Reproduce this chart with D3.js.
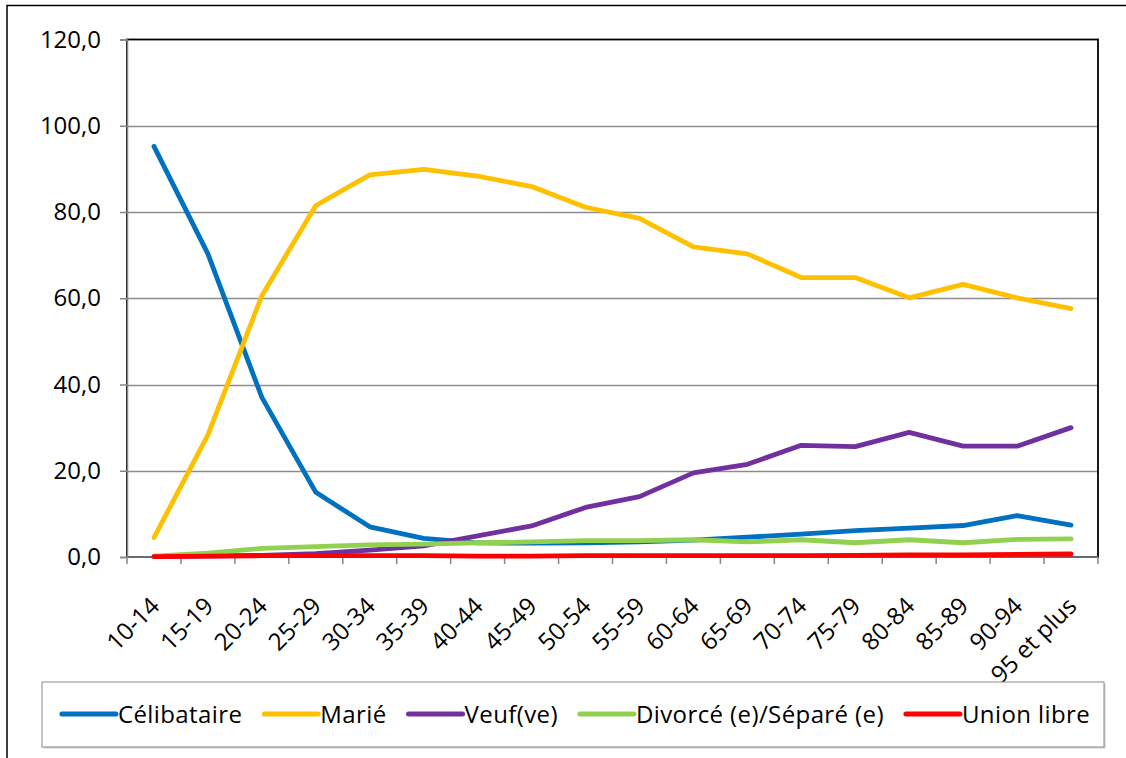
<!DOCTYPE html>
<html>
<head>
<meta charset="utf-8">
<script src="https://cdn.jsdelivr.net/npm/d3@7"></script>
<style>
  html, body { margin: 0; padding: 0; background: #fff; }
  svg { display: block; }
  text { font-family: "Open Sans", Lato, sans-serif; fill: #000; }
</style>
</head>
<body>
<svg id="chart" width="1126" height="758"></svg>
<script>
const categories = ["10-14","15-19","20-24","25-29","30-34","35-39","40-44","45-49","50-54","55-59","60-64","65-69","70-74","75-79","80-84","85-89","90-94","95 et plus"];
const celibataire = [95.2, 70.3, 37.0, 15.0, 7.0, 4.3, 3.3, 3.2, 3.3, 3.5, 3.9, 4.6, 5.3, 6.1, 6.7, 7.3, 9.6, 7.4];
const marie       = [4.5, 28.3, 60.6, 81.5, 88.6, 89.9, 88.3, 85.9, 81.1, 78.5, 71.9, 70.3, 64.8, 64.8, 60.1, 63.2, 60.1, 57.6];
const veuf        = [0.1, 0.2, 0.4, 0.8, 1.6, 2.6, 4.9, 7.2, 11.5, 14.0, 19.5, 21.5, 25.9, 25.6, 28.9, 25.7, 25.7, 30.0];
const divorce     = [0.2, 0.9, 2.0, 2.4, 2.8, 3.0, 3.3, 3.5, 3.8, 3.8, 4.0, 3.5, 4.0, 3.3, 4.0, 3.3, 4.1, 4.2];
const unionLibre  = [0.1, 0.2, 0.3, 0.3, 0.3, 0.3, 0.2, 0.2, 0.3, 0.3, 0.3, 0.3, 0.3, 0.4, 0.5, 0.5, 0.6, 0.7];
const seriesNames = ["Célibataire", "Marié", "Veuf(ve)", "Divorcé (e)/Séparé (e)", "Union libre"];
const seriesColors = ["#0070C0", "#FFC000", "#7030A0", "#92D050", "#FF0000"];
const yTicks = [0, 20, 40, 60, 80, 100, 120];

const seriesValues = [celibataire, marie, veuf, divorce, unionLibre];
const series = seriesNames.map((name, i) => ({ name, color: seriesColors[i], values: seriesValues[i] }));

const svg = d3.select("#chart");
const plot = { left: 127, right: 1098, top: 39.5, bottom: 557 };

// outer chart frame
svg.append("rect").attr("x", 7).attr("y", 5.5).attr("width", 1300).attr("height", 900)
  .attr("fill", "none").attr("stroke", "#000").attr("stroke-width", 1.5);

const x = d3.scaleBand().domain(categories).range([plot.left, plot.right]).padding(0);
const y = d3.scaleLinear().domain([0, 120]).range([plot.bottom, plot.top]);

// gridlines
svg.append("g").selectAll("line").data(yTicks.filter(d => d > 0 && d < 120)).join("line")
  .attr("x1", plot.left).attr("x2", plot.right)
  .attr("y1", d => Math.round(y(d)) + 0.5).attr("y2", d => Math.round(y(d)) + 0.5)
  .attr("stroke", "#8c8c8c").attr("stroke-width", 1.3);

// plot border
svg.append("rect").attr("x", plot.left).attr("y", plot.top)
  .attr("width", plot.right - plot.left).attr("height", plot.bottom - plot.top)
  .attr("fill", "none").attr("stroke", "#000").attr("stroke-width", 1.8);

// y axis
const yAxis = svg.append("g").attr("transform", `translate(${plot.left},0)`)
  .call(d3.axisLeft(y).tickValues(yTicks).tickSize(7).tickPadding(19)
    .tickFormat(d => d3.format(".1f")(d).replace(".", ",")));
yAxis.select(".domain").attr("stroke", "#868686").attr("stroke-width", 1.5);
yAxis.selectAll(".tick line").attr("stroke", "#868686").attr("stroke-width", 1.5);
yAxis.selectAll(".tick text").attr("font-family", "'Open Sans', sans-serif").attr("font-size", 24).attr("fill", "#000");

// x axis
const xAxisG = svg.append("g").attr("transform", `translate(0,${plot.bottom})`);
xAxisG.append("line").attr("x1", plot.left).attr("x2", plot.right).attr("y1", 0).attr("y2", 0)
  .attr("stroke", "#868686").attr("stroke-width", 1.5);
const boundaries = categories.map(c => x(c)).concat([plot.right]);
xAxisG.selectAll("line.tick").data(boundaries).join("line").attr("class", "tick")
  .attr("x1", d => d).attr("x2", d => d).attr("y1", 0).attr("y2", 7)
  .attr("stroke", "#868686").attr("stroke-width", 1.5);
xAxisG.selectAll("text").data(categories).join("text")
  .attr("transform", d => `translate(${x(d) + x.bandwidth() / 2 + 1},${44.7}) rotate(-45)`)
  .attr("text-anchor", "end").attr("dy", "0.35em")
  .attr("font-size", 24)
  .text(d => d);

// lines
const line = d3.line()
  .x((d, i) => x(categories[i]) + x.bandwidth() / 2)
  .y(d => y(d));
svg.append("g").selectAll("path").data(series).join("path")
  .attr("d", d => line(d.values))
  .attr("fill", "none").attr("stroke", d => d.color)
  .attr("stroke-width", 4.8).attr("stroke-linecap", "round").attr("stroke-linejoin", "round");

// legend
const legBox = { x: 42, y: 682, w: 1062, h: 65 };
svg.append("rect").attr("x", legBox.x + 1.5).attr("y", legBox.y + 1.5).attr("width", legBox.w).attr("height", legBox.h)
  .attr("fill", "#d0d0d0");
svg.append("rect").attr("x", legBox.x).attr("y", legBox.y).attr("width", legBox.w).attr("height", legBox.h)
  .attr("fill", "#fff").attr("stroke", "#8a8a8a").attr("stroke-width", 1);
const legend = svg.append("g");
const sampleLen = 54, textGap = 2, itemGap = 22, legY = 714;
const items = legend.selectAll("g").data(series).join("g");
items.append("line").attr("x1", 0).attr("x2", sampleLen).attr("y1", 0).attr("y2", 0)
  .attr("stroke", d => d.color).attr("stroke-width", 5).attr("stroke-linecap", "round");
items.append("text").attr("x", sampleLen + textGap).attr("y", 0).attr("dy", "0.37em")
  .attr("font-size", 24).attr("letter-spacing", 0.4).text(d => d.name);
let widths = [];
items.each(function() { widths.push(this.getBBox().width); });
const total = d3.sum(widths) + itemGap * (widths.length - 1);
let cx = 576 - total / 2;
items.attr("transform", (d, i) => { const t = `translate(${cx},${legY})`; cx += widths[i] + itemGap; return t; });
</script>
</body>
</html>
